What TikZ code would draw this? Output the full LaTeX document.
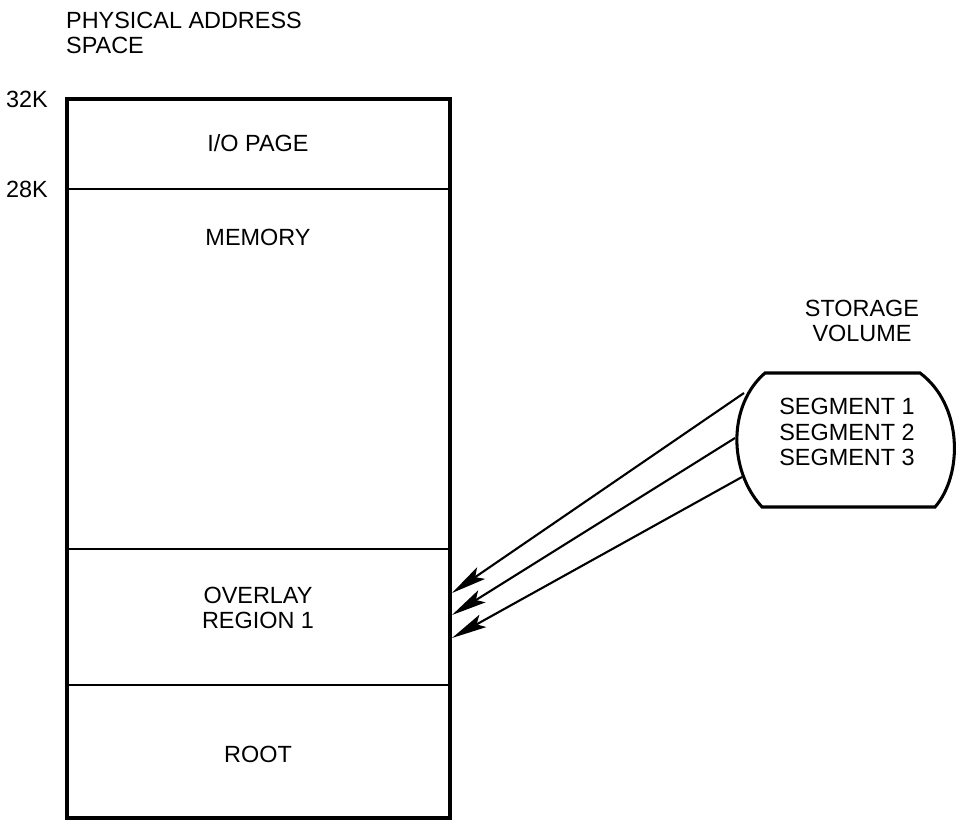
\documentclass[tikz,border=0pt]{standalone}
\usepackage{fontspec}
\setmainfont{Liberation Sans}
\usetikzlibrary{arrows.meta}

\begin{document}
\begin{tikzpicture}[x=0.03cm, y=-0.03cm, font=\fontsize{20}{21.5}\selectfont,
    seg arrow/.style={line width=1.8pt, -{Stealth[length=30pt,width=12pt,inset=6pt]}}]
    \useasboundingbox (0,0) rectangle (957,821);

    \coordinate (T1) at (67, 99);
    \coordinate (T2) at (450, 99);
    \coordinate (B2) at (450, 818);

    % address space
    \draw[line width=3pt] (T1) rectangle (B2);
    \draw[line width=1.8pt] (67, 189) -- (450, 189);
    \draw[line width=1.8pt] (67, 549) -- (450, 549);
    \draw[line width=1.8pt] (67, 685) -- (450, 685);

    \node[anchor=north west, align=left] (title) at (62, 8) {PHYSICAL ADDRESS\\SPACE};
    \node[anchor=east] (top) at (52, 99) {32K};
    \node[anchor=east] (mid) at (52, 189) {28K};

    \node (io) at (258, 143) {I/O PAGE};
    \node (mem) at (258, 237) {MEMORY};
    \node[align=center] (ovl) at (258, 608) {OVERLAY\\REGION 1};
    \node (root) at (258, 754) {ROOT};

    % storage volume
    \draw[line width=2.6pt] (765, 373) -- (920, 373)
        .. controls (963, 405) and (963, 475) .. (935, 507) -- (762, 507)
        .. controls (728, 470) and (728, 405) .. cycle;
    \node[align=center] (stv) at (862, 321) {STORAGE\\VOLUME};
    \node[align=center] (seg) at (847, 432) {SEGMENT 1\\SEGMENT 2\\SEGMENT 3};

    \coordinate (S1) at (744, 393);
    \coordinate (S2) at (735, 438);
    \coordinate (S3) at (742, 477);
    \coordinate (E1) at (452, 593);
    \coordinate (E2) at (452, 615);
    \coordinate (E3) at (452, 638);

    \draw[seg arrow] (S1) -- (E1);
    \draw[seg arrow] (S2) -- (E2);
    \draw[seg arrow] (S3) -- (E3);

\end{tikzpicture}
\end{document}
